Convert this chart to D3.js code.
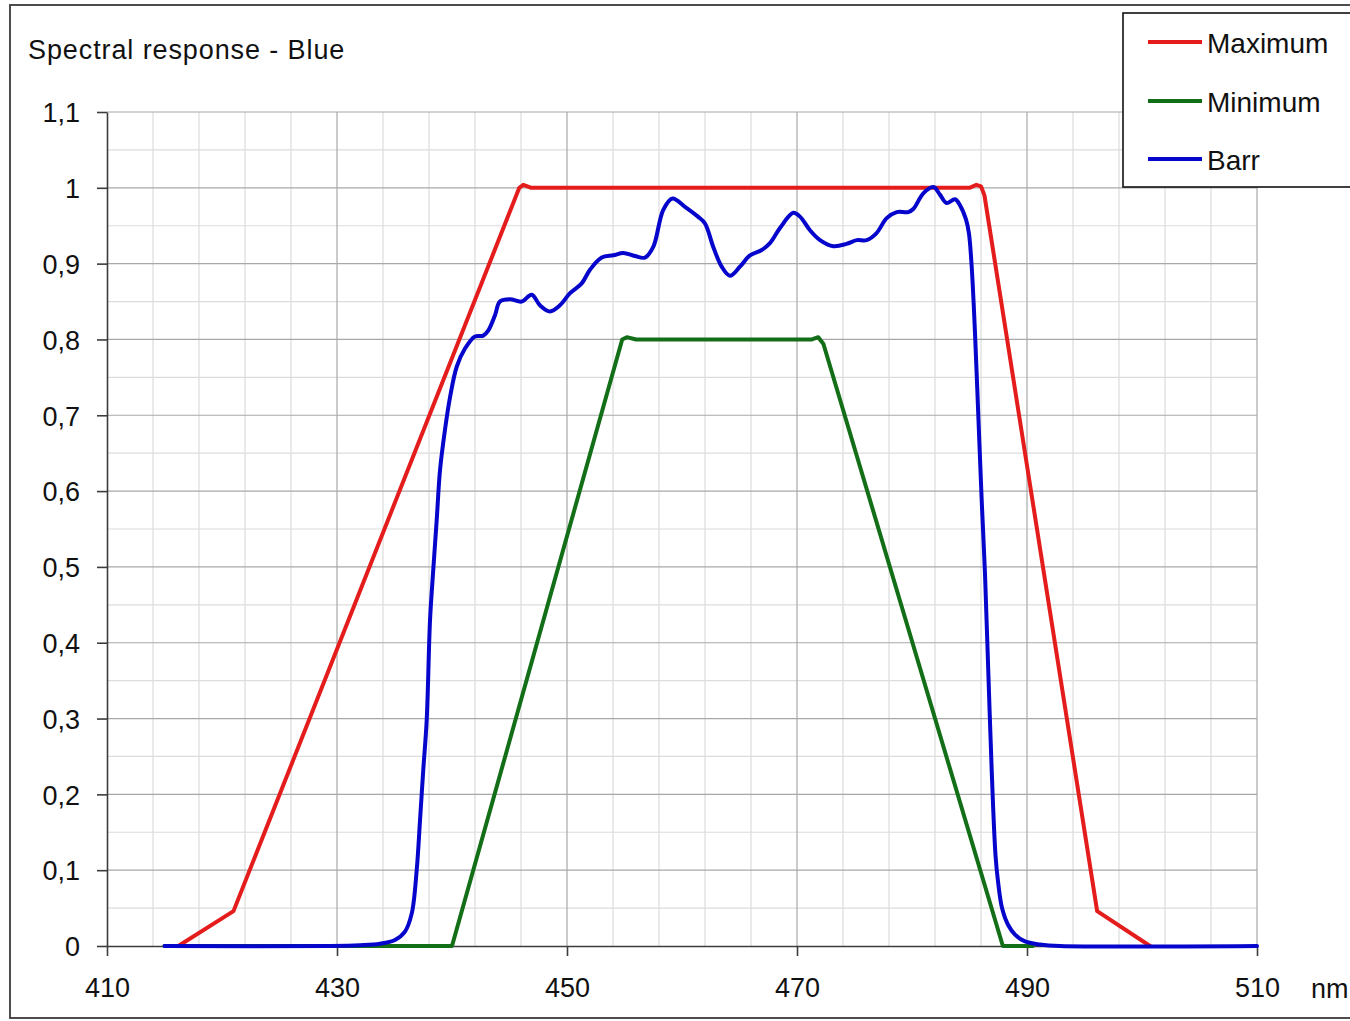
<!DOCTYPE html>
<html>
<head>
<meta charset="utf-8">
<script src="https://cdn.jsdelivr.net/npm/d3@7"></script>
<style>
  html, body { margin: 0; padding: 0; background: #fff; }
  svg { display: block; font-family: "Liberation Sans", Arial, sans-serif; }
</style>
</head>
<body>
<svg id="chart" width="1350" height="1021"></svg>
<script>
// ---- data ----
const seriesNames = ["Maximum", "Minimum", "Barr"];
const seriesColors = ["#e41c1c", "#136f17", "#0505cc"];

const maxNm  = [416.2, 421.0, 445.85, 446.2, 446.9, 485.0, 485.6, 486.0, 486.3, 496.1, 500.7];
const maxVal = [0, 0.046, 1.0, 1.004, 1.0, 1.0, 1.004, 1.002, 0.99, 0.046, 0];

const minNm  = [415.0, 439.4, 440.0, 454.8, 455.2, 456.0, 471.3, 471.85, 472.3, 487.9, 490.5];
const minVal = [0, 0, 0, 0.8, 0.803, 0.8, 0.8, 0.803, 0.794, 0, 0];

const barrNm = [415.0, 429.4, 432.0, 433.74, 435.04, 435.91, 436.5, 436.93, 437.22, 437.5, 437.8,
  438.09, 438.37, 438.67, 438.96, 439.39, 439.83, 440.41, 441.13, 442.0, 442.72, 443.16, 443.74,
  444.17, 445.04, 446.06, 446.93, 447.65, 448.52, 449.39, 450.26, 451.28, 452.0, 453.02, 454.03,
  454.9, 455.91, 456.78, 457.5, 458.37, 459.17, 460.26, 461.39, 462.0, 462.72, 463.45, 464.17,
  465.04, 465.91, 466.93, 467.65, 468.52, 469.68, 470.26, 471.13, 472.0, 473.16, 474.3, 475.2,
  476.05, 476.9, 477.8, 478.67, 479.68, 480.11, 481.0, 481.86, 482.43, 483.0, 483.74, 484.17,
  484.7, 484.95, 485.19, 485.48, 485.77, 486.06, 486.35, 486.63, 486.93, 487.26, 487.48, 487.83,
  488.35, 488.96, 489.83, 491.13, 492.87, 510.0];
const barrVal = [0, 0, 0.001, 0.003, 0.008, 0.019, 0.043, 0.100, 0.166, 0.232, 0.298,
  0.430, 0.496, 0.562, 0.628, 0.681, 0.724, 0.764, 0.788, 0.804, 0.805, 0.812, 0.832,
  0.850, 0.853, 0.850, 0.859, 0.845, 0.837, 0.845, 0.861, 0.874, 0.892, 0.908, 0.911,
  0.914, 0.910, 0.908, 0.922, 0.971, 0.986, 0.975, 0.962, 0.953, 0.922, 0.896, 0.884,
  0.896, 0.911, 0.918, 0.927, 0.947, 0.967, 0.962, 0.944, 0.931, 0.923, 0.926, 0.931,
  0.931, 0.940, 0.960, 0.968, 0.968, 0.972, 0.993, 1.001, 0.991, 0.980, 0.985, 0.977,
  0.958, 0.940, 0.896, 0.808, 0.698, 0.588, 0.490, 0.364, 0.232, 0.120, 0.085, 0.050,
  0.028, 0.015, 0.006, 0.002, 0, 0];

const xTicks = [410, 430, 450, 470, 490, 510];
const yTicks = [0, 0.1, 0.2, 0.3, 0.4, 0.5, 0.6, 0.7, 0.8, 0.9, 1.0, 1.1];
const xMinorGrid = d3.range(414, 510, 4);
const yMinorGrid = d3.range(0.05, 1.1, 0.1);
const titleText = "Spectral response - Blue";
const xUnit = "nm";

// ---- drawing ----
const svg = d3.select("#chart");
const x = d3.scaleLinear().domain([410, 510]).range([107, 1257]);
const y = d3.scaleLinear().domain([0, 1.1]).range([946, 112]);

// outer border
svg.append("rect").attr("x", 10).attr("y", 5).attr("width", 1360).attr("height", 1013)
  .attr("fill", "#fff").attr("stroke", "#3a3a3a").attr("stroke-width", 1.8);

// grid
const grid = svg.append("g");
grid.selectAll(".vmin").data(xMinorGrid.filter(v => (v - 410) % 20 !== 0)).join("line")
  .attr("x1", d => x(d)).attr("x2", d => x(d)).attr("y1", y(1.1)).attr("y2", y(0))
  .attr("stroke", "#dcdcdc").attr("stroke-width", 1.2);
grid.selectAll(".hmin").data(yMinorGrid).join("line")
  .attr("x1", x(410)).attr("x2", x(510)).attr("y1", d => y(d)).attr("y2", d => y(d))
  .attr("stroke", "#dcdcdc").attr("stroke-width", 1.2);
grid.selectAll(".vmaj").data(xTicks.slice(1)).join("line")
  .attr("x1", d => x(d)).attr("x2", d => x(d)).attr("y1", y(1.1)).attr("y2", y(0))
  .attr("stroke", "#a8a8a8").attr("stroke-width", 1.2);
grid.selectAll(".hmaj").data(yTicks.slice(1)).join("line")
  .attr("x1", x(410)).attr("x2", x(510)).attr("y1", d => y(d)).attr("y2", d => y(d))
  .attr("stroke", "#a8a8a8").attr("stroke-width", 1.2);

// axes
const fmt = d => String(+d.toFixed(1)).replace(".", ",");
const yAxis = svg.append("g").attr("transform", `translate(${x(410)},0)`)
  .call(d3.axisLeft(y).tickValues(yTicks).tickFormat(fmt).tickSize(10).tickPadding(17).tickSizeOuter(0));
const xAxis = svg.append("g").attr("transform", `translate(0,${y(0)})`)
  .call(d3.axisBottom(x).tickValues(xTicks).tickFormat(d3.format("d")).tickSize(10).tickPadding(22).tickSizeOuter(0));
[yAxis, xAxis].forEach(a => {
  a.select(".domain").attr("stroke", "#3c3c3c").attr("stroke-width", 1.6);
  a.selectAll(".tick line").attr("stroke", "#3c3c3c").attr("stroke-width", 1.6);
  a.selectAll(".tick text").attr("font-size", 27).attr("fill", "#111")
    .attr("font-family", "'Liberation Sans', Arial, sans-serif");
});
yAxis.selectAll(".tick text").attr("dy", "0.36em");

svg.append("text").attr("x", 1311).attr("y", 998).attr("font-size", 27).attr("fill", "#111").text(xUnit);

// title
svg.append("text").attr("x", 28).attr("y", 59).attr("font-size", 27)
  .attr("letter-spacing", 0.9).attr("fill", "#111").text(titleText);

// series
const series = [
  { name: seriesNames[0], color: seriesColors[0], curve: d3.curveLinear, pts: maxNm.map((d, i) => [d, maxVal[i]]) },
  { name: seriesNames[1], color: seriesColors[1], curve: d3.curveLinear, pts: minNm.map((d, i) => [d, minVal[i]]) },
  { name: seriesNames[2], color: seriesColors[2], curve: d3.curveCatmullRom.alpha(0.5), pts: barrNm.map((d, i) => [d, barrVal[i]]) }
];
svg.append("g").selectAll("path").data(series).join("path")
  .attr("d", d => d3.line().x(p => x(p[0])).y(p => y(p[1])).curve(d.curve)(d.pts))
  .attr("fill", "none").attr("stroke", d => d.color)
  .attr("stroke-width", 4).attr("stroke-linejoin", "round").attr("stroke-linecap", "round");

// legend
const lg = svg.append("g");
lg.append("rect").attr("x", 1123).attr("y", 13).attr("width", 300).attr("height", 174)
  .attr("fill", "#fff").attr("stroke", "#111").attr("stroke-width", 1.6);
const ly = [42, 101, 159];
const items = lg.selectAll(".item").data(series).join("g")
  .attr("transform", (d, i) => `translate(0,${ly[i]})`);
items.append("line").attr("x1", 1148).attr("x2", 1202).attr("y1", 0).attr("y2", 0)
  .attr("stroke", d => d.color).attr("stroke-width", 4);
items.append("text").attr("x", 1207).attr("y", 0).attr("dy", "0.38em")
  .attr("font-size", 28).attr("fill", "#111").text(d => d.name);
</script>
</body>
</html>
